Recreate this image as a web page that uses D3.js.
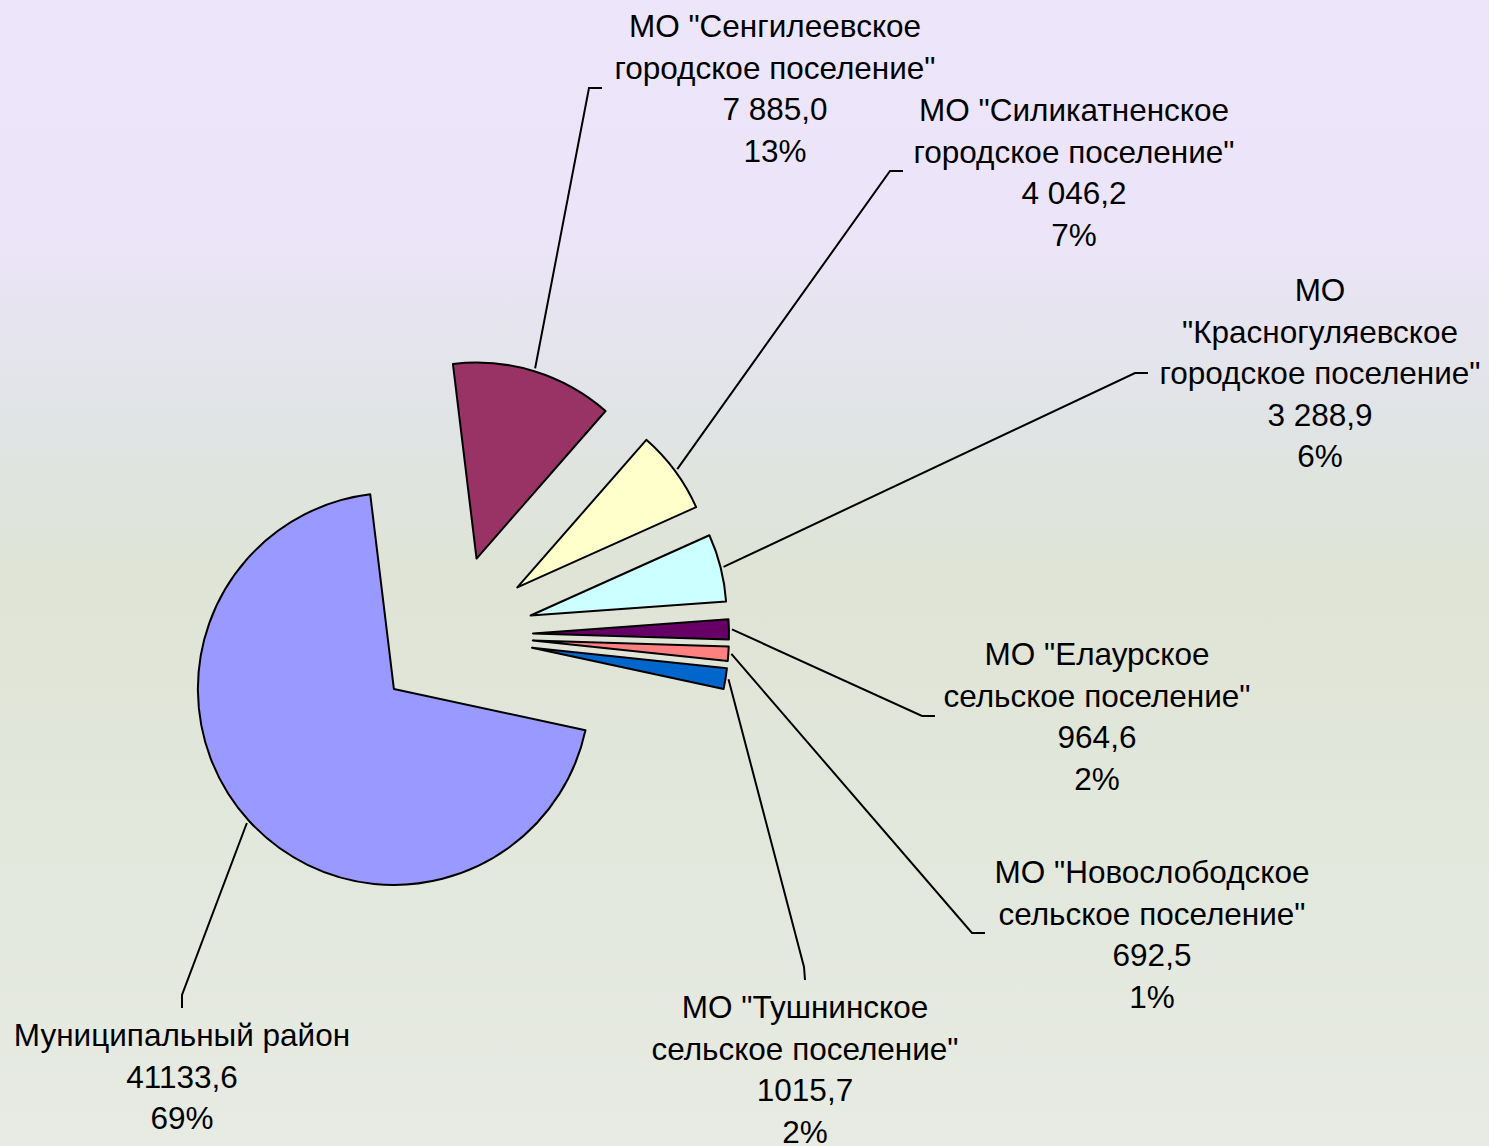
<!DOCTYPE html>
<html>
<head>
<meta charset="utf-8">
<script src="https://cdn.jsdelivr.net/npm/d3@7"></script>
<style>
  html, body { margin: 0; padding: 0; overflow: hidden; }
  svg { display: block; }
</style>
</head>
<body>
<div id="chart"></div>
<script>
const width = 1489;
const height = 1146;

// data
const names = [
	"Муниципальный район",
	"МО \"Сенгилеевское городское поселение\"",
	"МО \"Силикатненское городское поселение\"",
	"МО \"Красногуляевское городское поселение\"",
	"МО \"Елаурское сельское поселение\"",
	"МО \"Новослободское сельское поселение\"",
	"МО \"Тушнинское сельское поселение\"",
];
const values = [41133.6, 7885.0, 4046.2, 3288.9, 964.6, 692.5, 1015.7];
const valueLabels = ["41133,6", "7 885,0", "4 046,2", "3 288,9", "964,6", "692,5", "1015,7"];
const percentLabels = ["69%", "13%", "7%", "6%", "2%", "1%", "2%"];
const labelLines = [
	["Муниципальный район"],
	["МО \"Сенгилеевское", "городское поселение\""],
	["МО \"Силикатненское", "городское поселение\""],
	["МО", "\"Красногуляевское", "городское поселение\""],
	["МО \"Елаурское", "сельское поселение\""],
	["МО \"Новослободское", "сельское поселение\""],
	["МО \"Тушнинское", "сельское поселение\""],
];
const colors = ["#9999FF", "#993366", "#FFFFCC", "#CCFFFF", "#660066", "#FF8080", "#0066CC"];

// label block centres (x, first line baseline y) and leader line elbows
const labelPos = [
	{ x: 182, y: 1046, elbow: [182, 995], end: [182, 1008] },
	{ x: 775, y: 37, elbow: [589, 88], end: [602, 88] },
	{ x: 1074, y: 121, elbow: [890, 171], end: [903, 171] },
	{ x: 1320, y: 301, elbow: [1135, 373], end: [1148, 373] },
	{ x: 1097, y: 665, elbow: [922, 716], end: [935, 716] },
	{ x: 1152, y: 883, elbow: [972, 933], end: [985, 933] },
	{ x: 805, y: 1018, elbow: [804, 967], end: [805, 980] },
];

const cx = 453, cy = 635;
const radius = 196;
const explode = 80;
const fontSize = 31.5;
const lineStep = 41.5;

const svg = d3.select("#chart").append("svg")
	.attr("width", width)
	.attr("height", height);

// Background gradient
const defs = svg.append("defs");
const grad = defs.append("linearGradient")
	.attr("id", "bg")
	.attr("x1", 0).attr("y1", 0).attr("x2", 0).attr("y2", 1);
grad.append("stop").attr("offset", "0%").attr("stop-color", "#EDE5FA");
grad.append("stop").attr("offset", "20%").attr("stop-color", "#ECE5F9");
grad.append("stop").attr("offset", "36%").attr("stop-color", "#E1E4E6");
grad.append("stop").attr("offset", "50%").attr("stop-color", "#DFE4D6");
grad.append("stop").attr("offset", "100%").attr("stop-color", "#E7EBE3");

svg.append("rect")
	.attr("width", width)
	.attr("height", height)
	.attr("fill", "url(#bg)");

const pie = d3.pie()
	.sort(null)
	.startAngle(102.2 * Math.PI / 180)
	.endAngle(102.2 * Math.PI / 180 + 2 * Math.PI);

const arcs = pie(values);

const arc = d3.arc()
	.innerRadius(0)
	.outerRadius(radius);

const g = svg.append("g")
	.attr("transform", `translate(${cx}, ${cy})`);

// Each slice pushed out along its bisector
const offset = d => {
	const mid = (d.startAngle + d.endAngle) / 2;
	return [Math.sin(mid) * explode, -Math.cos(mid) * explode];
};

g.selectAll("path.slice")
	.data(arcs)
	.join("path")
	.attr("class", "slice")
	.attr("transform", d => `translate(${offset(d)[0]}, ${offset(d)[1]})`)
	.attr("d", arc)
	.attr("fill", (d, i) => colors[i])
	.attr("stroke", "#000")
	.attr("stroke-width", 2)
	.attr("stroke-linejoin", "round");

// Leader lines
g.selectAll("polyline.leader")
	.data(arcs)
	.join("polyline")
	.attr("class", "leader")
	.attr("points", (d, i) => {
		const mid = (d.startAngle + d.endAngle) / 2;
		const [ox, oy] = offset(d);
		const r = radius + 3;
		const start = [ox + Math.sin(mid) * r, oy - Math.cos(mid) * r];
		const p = labelPos[i];
		return [start, [p.elbow[0] - cx, p.elbow[1] - cy], [p.end[0] - cx, p.end[1] - cy]]
			.map(pt => pt.join(",")).join(" ");
	})
	.attr("fill", "none")
	.attr("stroke", "#000")
	.attr("stroke-width", 2);

// Labels
const labels = svg.selectAll("text.label")
	.data(arcs)
	.join("text")
	.attr("class", "label")
	.attr("text-anchor", "middle")
	.attr("font-family", "Liberation Sans, Arial, sans-serif")
	.attr("font-size", fontSize + "px")
	.attr("fill", "#000");

labels.each(function (d, i) {
	const lines = labelLines[i].concat([valueLabels[i], percentLabels[i]]);
	const t = d3.select(this);
	lines.forEach((line, k) => {
		t.append("tspan")
			.attr("x", labelPos[i].x)
			.attr("y", labelPos[i].y + k * lineStep)
			.text(line);
	});
});
</script>
</body>
</html>
